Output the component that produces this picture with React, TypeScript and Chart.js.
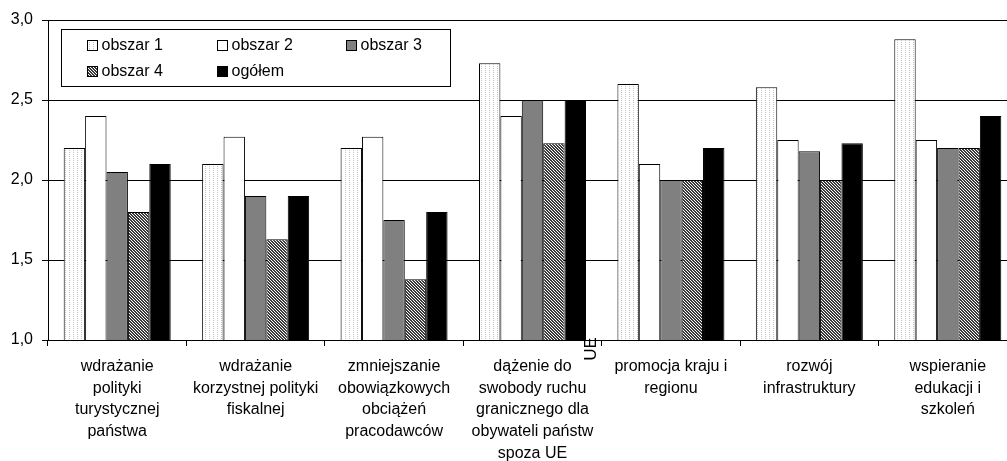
import React, { useEffect, useRef } from "react";
import { Chart, registerables } from "chart.js";

Chart.register(...registerables);

const categories: string[][] = [
  ["wdrażanie", "polityki", "turystycznej", "państwa"],
  ["wdrażanie", "korzystnej polityki", "fiskalnej"],
  ["zmniejszanie", "obowiązkowych", "obciążeń", "pracodawców"],
  ["dążenie do", "swobody ruchu", "granicznego dla", "obywateli państw", "spoza UE"],
  ["promocja kraju i", "regionu"],
  ["rozwój", "infrastruktury"],
  ["wspieranie", "edukacji i", "szkoleń"],
];

const seriesNames = ["obszar 1", "obszar 2", "obszar 3", "obszar 4", "ogółem"];

const obszar1 = [2.2, 2.1, 2.2, 2.73, 2.6, 2.58, 2.88];
const obszar2 = [2.4, 2.27, 2.27, 2.4, 2.1, 2.25, 2.25];
const obszar3 = [2.05, 1.9, 1.75, 2.5, 2.0, 2.18, 2.2];
const obszar4 = [1.8, 1.63, 1.38, 2.23, 2.0, 2.0, 2.2];
const ogolem = [2.1, 1.9, 1.8, 2.5, 2.2, 2.23, 2.4];

const yTickLabels = ["1,0", "1,5", "2,0", "2,5", "3,0"];
const yMin = 1;
const yMax = 3;
const yStep = 0.5;

const strayText = "UE";

const FONT = "'Liberation Sans', Arial, sans-serif";

function makeDotted(): CanvasPattern | string {
  const c = document.createElement("canvas");
  c.width = 4;
  c.height = 2;
  const g = c.getContext("2d")!;
  g.fillStyle = "#ffffff";
  g.fillRect(0, 0, 4, 2);
  g.fillStyle = "#c4c4c4";
  g.fillRect(1, 0, 1, 1);
  return g.createPattern(c, "repeat") || "#eeeeee";
}

function makeHatch(): CanvasPattern | string {
  const c = document.createElement("canvas");
  c.width = 3;
  c.height = 3;
  const g = c.getContext("2d")!;
  for (let y = 0; y < 3; y++) {
    for (let x = 0; x < 3; x++) {
      const k = (x - y + 6) % 3;
      g.fillStyle = k === 2 ? "#ffffff" : "#3a3a3a";
      g.fillRect(x, y, 1, 1);
    }
  }
  return g.createPattern(c, "repeat") || "#888888";
}

export default function App() {
  const ref = useRef<HTMLCanvasElement | null>(null);

  useEffect(() => {
    if (!ref.current) return;
    const fills = [makeDotted(), "#ffffff", "#808080", makeHatch(), "#000000"];
    const values = [obszar1, obszar2, obszar3, obszar4, ogolem];

    const legendPlugin = {
      id: "boxLegend",
      afterDraw(chart: any) {
        const { ctx, chartArea } = chart;
        const bx = chartArea.left + 13;
        const by = chartArea.top + 9;
        const bw = 389;
        const bh = 57;
        ctx.save();
        ctx.fillStyle = "#ffffff";
        ctx.fillRect(bx, by, bw, bh);
        ctx.strokeStyle = "#000000";
        ctx.lineWidth = 1;
        ctx.strokeRect(Math.round(bx) + 0.5, Math.round(by) + 0.5, bw, bh);
        ctx.font = `16px ${FONT}`;
        ctx.textBaseline = "middle";
        ctx.textAlign = "left";
        chart.data.datasets.forEach((ds: any, i: number) => {
          const col = i % 3;
          const row = Math.floor(i / 3);
          const sx = Math.round(bx + 26 + col * 129.5);
          const cy = Math.round(by + 15.5 + row * 26.5);
          ctx.fillStyle = ds.backgroundColor;
          ctx.fillRect(sx, cy - 5, 11, 11);
          ctx.strokeStyle = "#000000";
          ctx.strokeRect(sx + 0.5, cy - 5 + 0.5, 10, 10);
          ctx.fillStyle = "#000000";
          ctx.fillText(ds.label, sx + 14.5, cy + 1);
        });
        // stray rotated text present in the reference
        const xs = chart.scales.x;
        const bxp = (xs.getPixelForValue(3) + xs.getPixelForValue(4)) / 2;
        ctx.translate(bxp - 10, chartArea.bottom + 9);
        ctx.rotate(-Math.PI / 2);
        ctx.textAlign = "center";
        ctx.textBaseline = "middle";
        ctx.font = `17px ${FONT}`;
        ctx.fillText(strayText, 0, 0);
        ctx.restore();
      },
    };

    const chart = new Chart(ref.current, {
      type: "bar",
      data: {
        labels: categories,
        datasets: seriesNames.map((name, i) => ({
          label: name,
          data: values[i],
          backgroundColor: fills[i] as any,
          borderColor: "#000000",
          borderWidth: 1,
          barPercentage: 1,
          categoryPercentage: 0.773,
        })),
      },
      options: {
        animation: false,
        responsive: false,
        devicePixelRatio: 1,
        layout: { padding: { top: 20, left: 0, right: 0, bottom: 0 } },
        plugins: {
          legend: { display: false },
          tooltip: { enabled: false },
          title: { display: false },
        },
        scales: {
          x: {
            offset: true,
            grid: {
              offset: true,
              drawOnChartArea: false,
              drawTicks: true,
              tickLength: 6,
              color: "#000000",
            },
            border: { color: "#000000", width: 1 },
            ticks: {
              color: "#000000",
              font: { family: FONT, size: 16, lineHeight: 1.35 },
              padding: 10,
              maxRotation: 0,
              minRotation: 0,
              autoSkip: false,
            },
            afterFit(scale: any) {
              scale.height = 121;
            },
          },
          y: {
            min: yMin,
            max: yMax,
            grid: {
              color: "#000000",
              lineWidth: 1,
              tickLength: 6,
              drawTicks: true,
            },
            border: { color: "#000000", width: 1 },
            ticks: {
              stepSize: yStep,
              color: "#000000",
              font: { family: FONT, size: 16 },
              padding: 9,
              callback: (_v: any, idx: number) => yTickLabels[idx],
            },
            afterFit(scale: any) {
              scale.width = 48;
            },
          },
        },
      },
      plugins: [legendPlugin],
    });
    return () => chart.destroy();
  }, []);

  return (
    <div
      style={{
        position: "fixed",
        left: 0,
        top: 0,
        width: 1007,
        height: 461,
        overflow: "hidden",
        background: "#ffffff",
      }}
    >
      <canvas ref={ref} width={1017} height={461} style={{ display: "block" }} />
    </div>
  );
}
